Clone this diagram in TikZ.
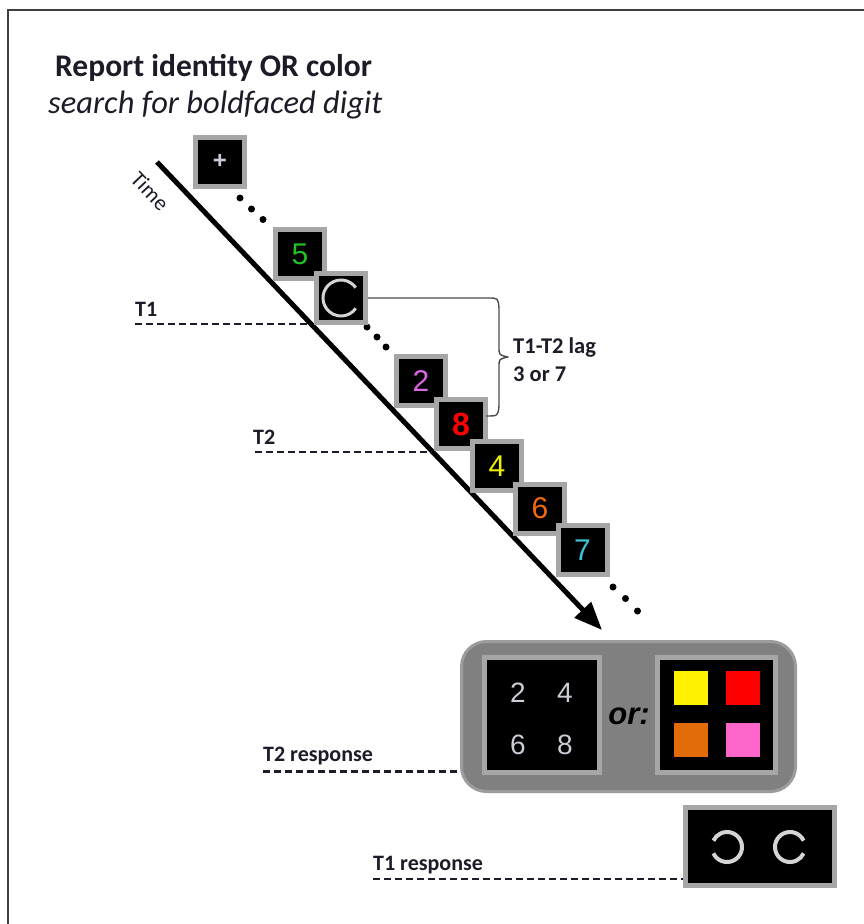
\documentclass[tikz,border=0pt]{standalone}
\usepackage{fontspec}
\setmainfont{Carlito}
\newfontfamily\arialf{Liberation Sans}
\usetikzlibrary{arrows.meta}
\definecolor{boxgray}{HTML}{A6A6A6}
\definecolor{panelgray}{HTML}{808080}
\definecolor{paneledge}{HTML}{9C9C9C}
\definecolor{labelc}{HTML}{1C1C28}
\definecolor{digitgray}{HTML}{CACDD6}
\definecolor{ringgray}{HTML}{D4D4D4}
\definecolor{cgreen}{HTML}{22C022}
\definecolor{cviolet}{HTML}{DD66E6}
\definecolor{cyellow}{HTML}{EEEE00}
\definecolor{corange}{HTML}{F26A10}
\definecolor{ccyan}{HTML}{3CC4D4}
\definecolor{sorange}{HTML}{E36C0A}
\definecolor{spink}{HTML}{FF66CC}
\begin{document}
\begin{tikzpicture}[x=1pt,y=-1pt,
  stim/.style={draw=boxgray, line width=5pt, fill=black, minimum width=49pt, minimum height=49pt, inner sep=0pt, font=\arialf\fontsize{30}{30}\selectfont},
  lab/.style={font=\bfseries\fontsize{22}{24}\selectfont, text=labelc, inner sep=0pt, anchor=base west},
  tline/.style={line width=2.5pt, dash pattern=on 7pt off 4pt, labelc},
  dotc/.style={circle, fill=black, minimum size=7pt, inner sep=0pt},
  sq/.style={minimum width=35pt, minimum height=35pt, inner sep=0pt, draw=black, line width=0.5pt},
  rdig/.style={text=digitgray, font=\arialf\fontsize{28}{28}\selectfont, inner sep=0pt}
]
\useasboundingbox (0,0) rectangle (864,924);
\fill[white] (0,0) rectangle (864,924);
\draw[line width=2pt, black!75] (8,924) -- (8,10) -- (864,10);

% titles
\node[font=\bfseries\fontsize{31.5}{36}\selectfont, text=labelc, inner sep=0pt, anchor=base west] (title) at (55,76) {Report identity OR color};
\node[font=\itshape\fontsize{32.5}{36}\selectfont, text=labelc, inner sep=0pt, anchor=base west] (subtitle) at (48,113) {search for boldfaced digit};

% time line
\coordinate (ts) at (157,162);
\coordinate (te) at (602,630);
\draw[line width=5pt, -{Triangle[length=28pt,width=22pt]}] (ts) -- (te);
\node[font=\fontsize{22}{24}\selectfont, text=labelc, rotate=-46.5, inner sep=0pt] (time) at (150,191) {Time};

% T1 / T2 markers
\node[lab] (T1) at (135,316) {T1};
\coordinate (t1a) at (135,324);
\coordinate (t1b) at (311,324);
\draw[tline] (t1a) -- (t1b);
\node[lab] (T2) at (253,444) {T2};
\coordinate (t2a) at (255,452);
\coordinate (t2b) at (432,452);
\draw[tline] (t2a) -- (t2b);

% dots
\node[dotc] (d1) at (240,198) {};
\node[dotc] (d2) at (251.5,209) {};
\node[dotc] (d3) at (263,219.5) {};
\node[dotc] (d4) at (367,327) {};
\node[dotc] (d5) at (377,337) {};
\node[dotc] (d6) at (386,347) {};
\node[dotc] (d7) at (613,587) {};
\node[dotc] (d8) at (625.5,598.5) {};
\node[dotc] (d9) at (637.5,611) {};

% stream boxes
\node[stim, text=digitgray, font=\arialf\bfseries\fontsize{24}{24}\selectfont] (fix) at (220,161.5) {+};
\node[stim, text=cgreen] (s5) at (300,254) {5};
\node[stim] (sC) at (341,298) {};
\draw[ringgray, line width=3pt] (sC.center) ++(35:18pt) arc[start angle=35, end angle=325, radius=18pt];
\node[stim, text=cviolet] (s2) at (421,381) {2};
\node[stim, text=red, font=\arialf\bfseries\fontsize{32}{32}\selectfont] (s8) at (461,424) {8};
\node[stim, text=cyellow] (s4) at (497,466) {4};
\node[stim, text=corange] (s6) at (540,508.5) {6};
\node[stim, text=ccyan] (s7) at (582.5,550) {7};

% brace
\coordinate (bend) at (486,416);
\draw[line width=1.4pt, black!70, line join=round]
  (sC.east) -- (488,298) .. controls (498,298) .. (499,308) -- (499,347)
  .. controls (499,355) .. (508,357) .. controls (499,359) .. (499,367)
  -- (499,406) .. controls (498,416) .. (bend);
\node[lab, align=left, anchor=north west, font=\bfseries\fontsize{22.5}{28}\selectfont] (lag) at (513,338) {T1-T2 lag\\3 or 7};

% response panel
\node[rounded corners=25pt, fill=panelgray, draw=paneledge, line width=3pt, minimum width=334pt, minimum height=150pt, inner sep=0pt] (panel) at (628.5,716.5) {};
\node[draw=boxgray, line width=5pt, fill=black, minimum width=115pt, minimum height=115pt, inner sep=0pt] (digbox) at (542,715) {};
\node[rdig] (r2) at (518,693) {2};
\node[rdig] (r4) at (565,693) {4};
\node[rdig] (r6) at (518,745) {6};
\node[rdig] (r8) at (565,745) {8};
\node[font=\arialf\bfseries\itshape\fontsize{31}{31}\selectfont, inner sep=0pt] (or) at (629,716) {or:};
\node[draw=boxgray, line width=5pt, fill=black, minimum width=118pt, minimum height=115pt, inner sep=0pt] (colbox) at (716.5,715) {};
\node[sq, fill=yellow] (cy) at (690.5,687.5) {};
\node[sq, fill=red] (cr) at (742.5,687.5) {};
\node[sq, fill=sorange] (co) at (690.5,740) {};
\node[sq, fill=spink] (cp) at (742.5,740) {};

% T2 response
\node[lab] (T2r) at (263,761) {T2 response};
\coordinate (t2ra) at (263,771.5);
\draw[tline] (t2ra) -- (panel.west |- t2ra);

% T1 response
\node[draw=boxgray, line width=5pt, fill=black, minimum width=149pt, minimum height=78pt, inner sep=0pt] (t1box) at (760,846.5) {};
\draw[ringgray, line width=4pt] (727,847) ++(-155:15pt) arc[start angle=-155, end angle=155, radius=15pt];
\draw[ringgray, line width=4pt] (790,847) ++(25:15pt) arc[start angle=25, end angle=335, radius=15pt];
\node[lab] (T1r) at (373,870) {T1 response};
\coordinate (t1ra) at (373,879);
\draw[tline] (t1ra) -- (t1box.west |- t1ra);
\end{tikzpicture}
\end{document}
